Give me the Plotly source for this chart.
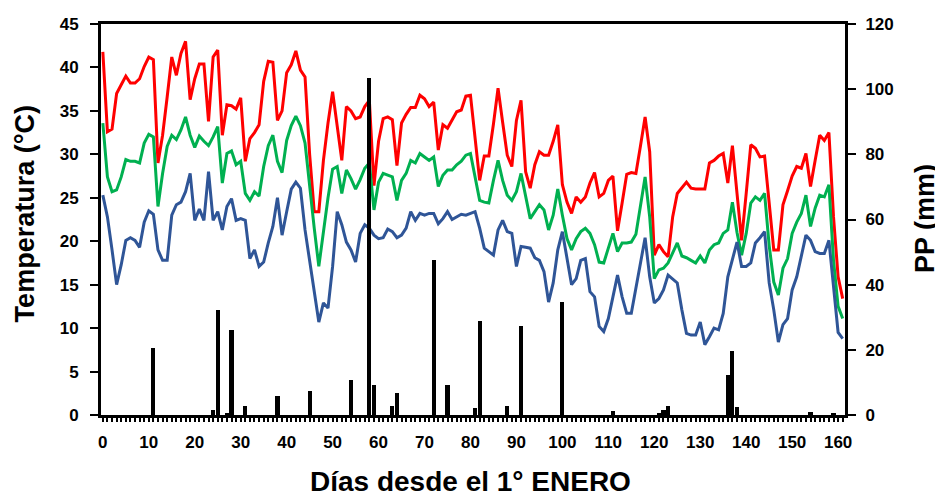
import plotly.graph_objects as go

# ---------------- data ----------------
days = list(range(0, 162))

t_max = [41.8, 32.6, 32.9, 37.0, 38.0, 39.0, 38.2, 38.2, 38.7, 40.1,
         41.2, 40.9, 29.0, 32.2, 36.6, 41.2, 39.1, 41.6, 43.0, 36.3,
         38.7, 40.4, 40.4, 33.8, 41.2, 42.0, 32.2, 35.7, 35.6, 35.2,
         36.5, 29.2, 31.8, 32.5, 33.4, 38.4, 40.7, 40.6, 33.9, 35.0,
         39.4, 40.3, 41.9, 39.7, 38.9, 30.0, 23.4, 23.4, 29.3, 33.6,
         37.2, 33.2, 29.3, 35.5, 35.0, 34.1, 34.3, 35.5, 36.2, 26.4,
         31.5, 34.1, 34.3, 34.0, 28.7, 33.6, 34.6, 35.4, 35.4, 36.8,
         36.4, 35.5, 36.0, 30.5, 33.4, 33.0, 33.9, 34.9, 35.1, 36.7,
         36.8, 31.5, 27.0, 29.8, 29.8, 33.5, 37.6, 33.7, 29.9, 28.6,
         33.9, 36.2, 28.0, 26.1, 28.8, 30.3, 29.9, 29.9, 31.5, 33.4,
         26.5, 24.5, 23.2, 25.1, 24.5, 25.1, 26.7, 27.9, 25.1, 25.5,
         27.0, 27.5, 21.2, 24.4, 27.7, 27.9, 27.8, 31.0, 34.3, 30.3,
         18.4, 19.6, 18.8, 18.2, 22.8, 25.5, 26.2, 26.8, 26.1, 26.0,
         26.0, 26.0, 29.0, 29.3, 29.8, 30.1, 26.7, 31.0, 25.5, 20.1,
         25.5, 31.1, 30.7, 29.7, 29.8, 24.0, 19.0, 19.0, 24.2, 25.8,
         27.5, 28.6, 28.4, 30.1, 26.3, 29.3, 32.2, 31.6, 32.5, 22.8,
         15.9, 13.4]

t_mean = [33.6, 27.4, 25.7, 25.9, 27.4, 29.4, 29.2, 29.2, 29.0, 31.3,
          32.3, 32.0, 24.0, 27.8, 30.9, 32.2, 31.7, 32.8, 34.3, 32.2,
          30.8, 32.1, 31.5, 31.0, 32.0, 33.2, 26.7, 30.1, 30.4, 28.8,
          29.2, 25.5, 24.7, 25.7, 25.2, 28.6, 31.0, 32.2, 29.2, 27.9,
          31.6, 33.3, 34.4, 33.3, 31.3, 26.0, 21.5, 17.1, 21.3, 25.0,
          28.3, 28.6, 25.5, 28.2, 27.2, 26.0, 27.1, 28.4, 29.0, 23.6,
          26.8, 27.8, 27.6, 27.4, 24.7, 27.0, 27.8, 29.3, 29.0, 30.1,
          29.7, 29.3, 29.7, 26.3, 27.6, 28.2, 28.2, 28.8, 29.2, 29.9,
          30.1, 27.5, 24.7, 24.5, 24.4, 27.0, 29.3, 27.0, 25.3, 24.7,
          25.7, 27.8, 25.1, 22.6, 23.4, 24.2, 23.6, 21.3, 23.0, 26.0,
          23.0, 20.3, 19.0, 20.3, 21.1, 21.5, 20.9, 19.6, 17.6, 17.5,
          19.2, 20.9, 18.8, 19.8, 19.8, 19.9, 20.8, 24.2, 27.4, 22.8,
          15.7, 16.7, 16.9, 17.5, 18.6, 19.8, 18.3, 18.1, 17.8, 17.5,
          18.3, 17.5, 19.0, 19.6, 19.8, 20.9, 21.3, 24.5, 21.0, 18.4,
          20.9, 24.4, 25.1, 24.7, 25.5, 19.5, 15.3, 13.8, 16.9, 18.0,
          20.9, 22.2, 23.2, 25.3, 21.7, 23.8, 25.3, 25.1, 26.5, 17.8,
          12.5, 11.1]

t_min = [25.3, 22.8, 19.0, 15.0, 17.3, 20.1, 20.4, 20.1, 19.3, 22.2,
         23.5, 23.1, 19.0, 17.8, 17.8, 23.0, 24.2, 24.5, 25.7, 27.8,
         22.4, 23.7, 22.4, 28.0, 22.4, 23.4, 21.3, 24.0, 24.9, 22.4,
         22.6, 22.4, 18.0, 19.0, 17.1, 17.6, 19.8, 21.7, 25.0, 20.7,
         23.4, 26.0, 26.8, 26.1, 21.3, 17.8, 14.4, 10.7, 12.9, 12.3,
         17.1, 23.4, 21.9, 19.9, 19.0, 17.6, 20.9, 21.9, 21.5, 20.7,
         20.3, 20.4, 21.4, 21.1, 20.4, 20.7, 21.5, 23.4, 22.4, 23.2,
         23.0, 23.2, 23.2, 22.0, 22.6, 23.4, 22.5, 22.8, 23.1, 23.0,
         23.2, 23.4, 21.5, 19.2, 18.8, 18.4, 21.3, 22.4, 21.1, 20.9,
         17.1, 19.4, 19.3, 19.2, 18.1, 17.8, 16.5, 13.0, 15.2, 19.0,
         21.1, 17.8, 15.0, 15.7, 17.8, 18.0, 14.2, 13.6, 10.2, 9.6,
         11.1, 13.6, 16.1, 13.6, 11.7, 11.7, 14.5, 17.5, 20.4, 15.9,
         12.9, 13.4, 14.4, 16.1, 15.7, 15.2, 12.1, 9.4, 9.2, 9.2,
         10.7, 8.1, 9.0, 10.0, 9.8, 11.7, 15.9, 17.8, 19.9, 17.1,
         17.1, 17.5, 19.8, 20.4, 21.1, 15.2, 12.1, 8.4, 10.4, 11.1,
         14.4, 15.9, 18.2, 20.7, 20.1, 18.8, 18.6, 18.6, 20.1, 15.0,
         9.5, 8.8]

pp_days = [11, 24, 25, 27, 28, 31, 38, 45, 54, 58, 59, 63, 64, 72, 75,
           81, 82, 88, 91, 100, 111, 121, 122, 123, 136, 137, 138, 154, 159]
pp_mm = [20.5, 1.5, 32.2, 0.5, 26.0, 2.8, 5.8, 7.5, 10.7, 103.5, 9.1, 2.8, 6.9, 47.7, 9.1,
         2.0, 28.8, 2.8, 27.2, 34.7, 1.2, 0.5, 1.5, 2.8, 12.3, 19.7, 2.4, 1.0, 0.5]

x_ticks = list(range(0, 161, 10))
temp_ticks = list(range(0, 46, 5))
pp_ticks = list(range(0, 121, 20))

x_title = "Días desde el 1° ENERO"
y_title = "Temperatura (°C)"
y2_title = "PP (mm)"

# ---------------- figure ----------------
FONT = "Liberation Sans, Arial, sans-serif"

fig = go.Figure()
fig.add_trace(go.Scatter(x=days, y=t_max, mode="lines", name="Máx",
                         line=dict(color="#FF0000", width=3)))
fig.add_trace(go.Scatter(x=days, y=t_mean, mode="lines", name="Media",
                         line=dict(color="#00B050", width=3)))
fig.add_trace(go.Scatter(x=days, y=t_min, mode="lines", name="Mín",
                         line=dict(color="#2F5597", width=3)))
fig.add_trace(go.Bar(x=pp_days, y=pp_mm, name="PP", yaxis="y2",
                     width=0.9, marker=dict(color="#000000", line=dict(width=0))))

tickfont = dict(size=17, family=FONT, weight="bold")

fig.update_layout(
    width=935, height=491,
    margin=dict(l=93, r=98, t=16, b=84),
    plot_bgcolor="white", paper_bgcolor="white",
    showlegend=False,
    bargap=0,
    font=dict(family=FONT, color="black"),
    xaxis=dict(
        range=[-0.4, 161.5],
        tickmode="array", tickvals=x_ticks, ticktext=[str(v) for v in x_ticks],
        ticks="outside", ticklen=4, tickwidth=1.5, tickcolor="black",
        minor=dict(dtick=1, tick0=0, ticks="outside", ticklen=4, tickwidth=1.5, tickcolor="black"),
        showline=True, linecolor="black", linewidth=3, mirror=True,
        showgrid=False, zeroline=False, automargin=False,
        ticklabelstandoff=6,
        tickfont=tickfont,
    ),
    yaxis=dict(
        range=[0, 45],
        tickmode="array", tickvals=temp_ticks, ticktext=[str(v) for v in temp_ticks],
        ticks="outside", ticklen=8, tickwidth=2, tickcolor="black",
        showline=True, linecolor="black", linewidth=3,
        showgrid=False, zeroline=False, automargin=False,
        ticklabelstandoff=8,
        tickfont=tickfont,
    ),
    yaxis2=dict(
        range=[0, 120], overlaying="y", side="right",
        tickmode="array", tickvals=pp_ticks, ticktext=[str(v) for v in pp_ticks],
        ticks="outside", ticklen=8, tickwidth=2, tickcolor="black",
        showline=True, linecolor="black", linewidth=3,
        showgrid=False, zeroline=False, automargin=False,
        ticklabelstandoff=6,
        tickfont=tickfont,
    ),
    annotations=[
        dict(text="<b>" + x_title + "</b>", xref="paper", yref="paper",
             x=0.497, y=-0.212, xanchor="center", yanchor="bottom", borderpad=0,
             showarrow=False, font=dict(size=28, family=FONT, color="black")),
        dict(text="<b>" + y_title + "</b>", xref="paper", yref="paper",
             x=-0.1025, y=0.515, xanchor="center", yanchor="middle", textangle=-90,
             showarrow=False, font=dict(size=27, family=FONT, color="black")),
        dict(text="<b>" + y2_title + "</b>", xref="paper", yref="paper",
             x=1.1075, y=0.504, xanchor="center", yanchor="middle", textangle=-90,
             showarrow=False, font=dict(size=27, family=FONT, color="black")),
    ],
)

fig.write_html("out.html")
